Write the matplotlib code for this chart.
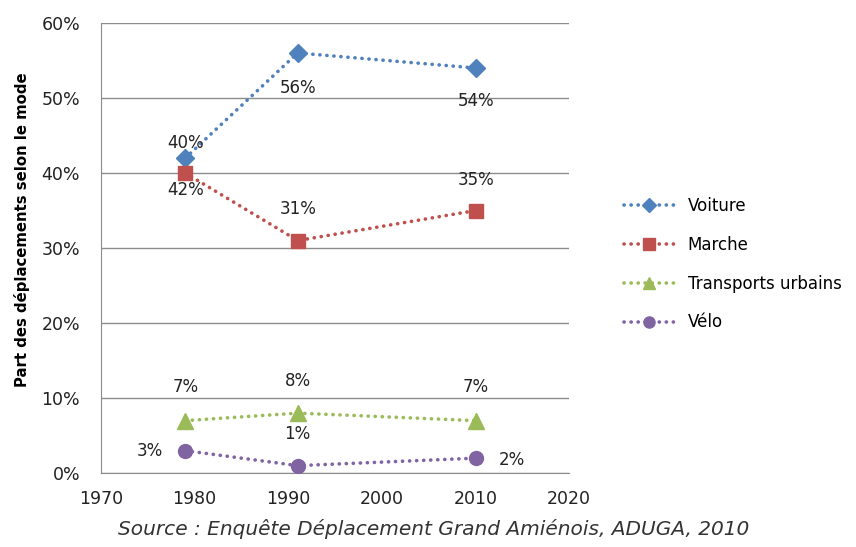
import matplotlib.pyplot as plt
from matplotlib.ticker import FuncFormatter

years = [1979, 1991, 2010]
voiture = [42, 56, 54]
marche = [40, 31, 35]
transports = [7, 8, 7]
velo = [3, 1, 2]

# (points offset dx, dy) of each value label
series = [
    ('Voiture', voiture, '#4F81BD', 'D', 9, [(0, -31), (0, -34), (0, -32)]),
    ('Marche', marche, '#C0504D', 's', 10, [(0, 29), (0, 30), (0, 29)]),
    ('Transports urbains', transports, '#9BBB59', '^', 11, [(0, 32), (0, 31), (0, 32)]),
    ('Vélo', velo, '#8064A2', 'o', 10, [(-34, 0), (0, 30), (35, -2)]),
]

plt.rcParams['font.family'] = ['DejaVu Sans']
fig = plt.figure(figsize=(8.56, 5.47), dpi=100)
ax = fig.add_axes([0.118, 0.135, 0.547, 0.823])

dots = (0, (0.05, 1.9))
for name, vals, col, mk, ms, offs in series:
    ax.plot(years, vals, linestyle=dots, dash_capstyle='round',
            color=col, lw=2.6, marker=mk, markersize=ms, label=name, zorder=3)
    for x, v, (dx, dy) in zip(years, vals, offs):
        ax.annotate(f'{v}%', (x, v), xytext=(dx * 0.75, dy * 0.75),
                    textcoords='offset points', ha='center', va='center',
                    fontsize=12, color='#222222', zorder=4)

ax.set_xlim(1970, 2020)
ax.set_ylim(0, 60)
ax.set_xticks(range(1970, 2021, 10))
ax.set_yticks(range(0, 61, 10))
ax.yaxis.set_major_formatter(FuncFormatter(lambda v, p: f'{int(v)}%'))
ax.grid(axis='y', color='#8c8c8c', lw=1)
ax.set_axisbelow(True)
for s in ['top', 'right']:
    ax.spines[s].set_visible(False)
ax.spines['left'].set_color('#8c8c8c')
ax.spines['bottom'].set_color('#8c8c8c')
ax.tick_params(length=0, labelsize=12.5, colors='#222222')
ax.tick_params(axis='y', pad=15)
ax.tick_params(axis='x', pad=12)
ax.set_ylabel('Part des déplacements selon le mode', fontsize=10.7,
              fontweight='bold')
ax.yaxis.set_label_coords(-0.152, 0.54)

ax.legend(loc='center left', bbox_to_anchor=(0.712, 0.517),
          bbox_transform=fig.transFigure, frameon=False, fontsize=12,
          labelspacing=1.25, handlelength=3, markerscale=0.8)

fig.text(0.506, 0.015, 'Source : Enquête Déplacement Grand Amiénois, ADUGA, 2010',
         ha='center', va='bottom', fontsize=14.5, style='italic', color='#333333')

fig.savefig('out.png', dpi=100)
